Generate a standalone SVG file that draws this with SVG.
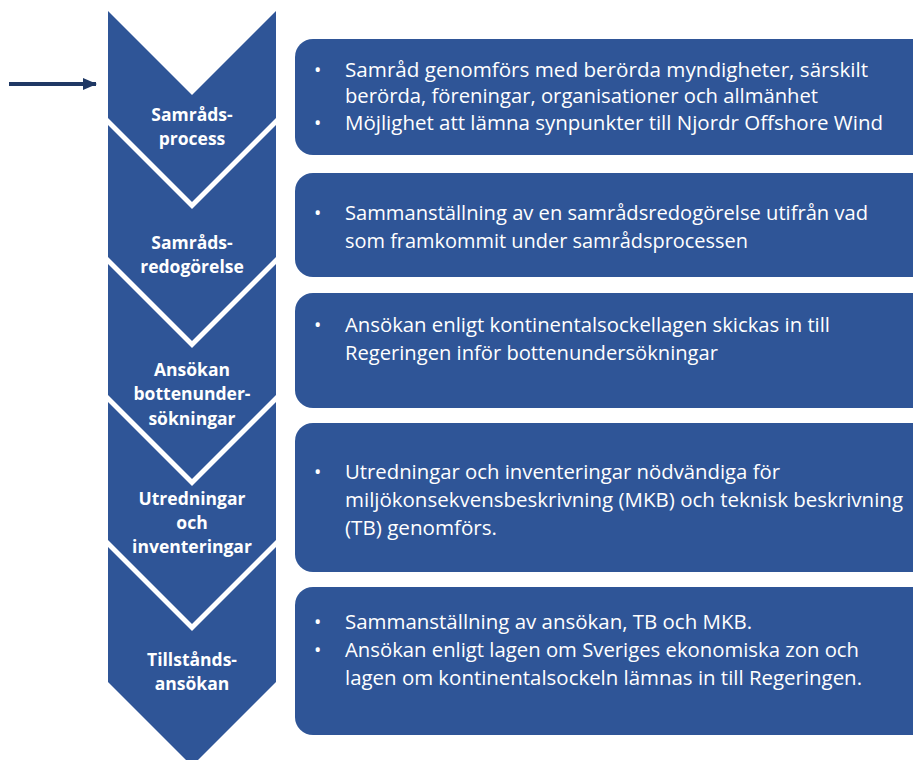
<svg xmlns="http://www.w3.org/2000/svg" width="913" height="760" viewBox="0 0 913 760">
<defs>
<style>
.chev{fill:#2F5597;}
.box{fill:#2F5597;}
.cl{font-family:"Open Sans","Noto Sans","Liberation Sans",sans-serif;font-weight:bold;font-size:17.5px;fill:#FFFFFF;text-anchor:middle;}
.bt{font-family:"Open Sans","Noto Sans","Liberation Sans",sans-serif;font-size:19.5px;fill:#FFFFFF;}
.arrow{stroke:#1F3864;stroke-width:4;fill:none;}
</style>
<marker id="ah" markerWidth="14" markerHeight="12" refX="13" refY="6" orient="auto" markerUnits="userSpaceOnUse">
<path d="M0,0 L14,6 L0,12 Z" fill="#1F3864"/>
</marker>
</defs>
<rect width="913" height="760" fill="#FFFFFF"/>
<g id="connectors">
<line class="arrow" x1="9" y1="84" x2="96" y2="84" marker-end="url(#ah)"/>
</g>
<g id="chevron1">
<polygon class="chev" points="108,11 192,95 276,11 276,118 192,202 108,118"/>
<text class="cl" x="192" y="121">Samråds-</text>
<text class="cl" x="192" y="145">process</text>
</g>
<g id="chevron2">
<polygon class="chev" points="108,125 192,209 276,125 276,257 192,341 108,257"/>
<text class="cl" x="192" y="249">Samråds-</text>
<text class="cl" x="192" y="273">redogörelse</text>
</g>
<g id="chevron3">
<polygon class="chev" points="108,264 192,348 276,264 276,395 192,479 108,395"/>
<text class="cl" x="192" y="376">Ansökan</text>
<text class="cl" x="192" y="400">bottenunder-</text>
<text class="cl" x="192" y="425">sökningar</text>
</g>
<g id="chevron4">
<polygon class="chev" points="108,402 192,486 276,402 276,540 192,624 108,540"/>
<text class="cl" x="192" y="505">Utredningar</text>
<text class="cl" x="192" y="529">och</text>
<text class="cl" x="192" y="553">inventeringar</text>
</g>
<g id="chevron5">
<polygon class="chev" points="108,547 192,631 276,547 276,682 192,766 108,682"/>
<text class="cl" x="192" y="666">Tillstånds-</text>
<text class="cl" x="192" y="690">ansökan</text>
</g>
<g id="box1">
<rect class="box" x="295" y="39" width="640" height="116" rx="18"/>
<text class="bt" x="314" y="77">•</text>
<text class="bt" x="345" y="77" textLength="523" lengthAdjust="spacingAndGlyphs">Samråd genomförs med berörda myndigheter, särskilt</text>
<text class="bt" x="345" y="103" textLength="473" lengthAdjust="spacingAndGlyphs">berörda, föreningar, organisationer och allmänhet</text>
<text class="bt" x="314" y="130">•</text>
<text class="bt" x="345" y="130" textLength="538" lengthAdjust="spacingAndGlyphs">Möjlighet att lämna synpunkter till Njordr Offshore Wind</text>
</g>
<g id="box2">
<rect class="box" x="295" y="173" width="640" height="104" rx="18"/>
<text class="bt" x="314" y="220">•</text>
<text class="bt" x="345" y="220" textLength="523" lengthAdjust="spacingAndGlyphs">Sammanställning av en samrådsredogörelse utifrån vad</text>
<text class="bt" x="345" y="248" textLength="403" lengthAdjust="spacingAndGlyphs">som framkommit under samrådsprocessen</text>
</g>
<g id="box3">
<rect class="box" x="295" y="293" width="640" height="115" rx="18"/>
<text class="bt" x="314" y="332">•</text>
<text class="bt" x="345" y="332" textLength="485" lengthAdjust="spacingAndGlyphs">Ansökan enligt kontinentalsockellagen skickas in till</text>
<text class="bt" x="345" y="360" textLength="373" lengthAdjust="spacingAndGlyphs">Regeringen inför bottenundersökningar</text>
</g>
<g id="box4">
<rect class="box" x="295" y="423" width="640" height="149" rx="18"/>
<text class="bt" x="314" y="479">•</text>
<text class="bt" x="345" y="479" textLength="435" lengthAdjust="spacingAndGlyphs">Utredningar och inventeringar nödvändiga för</text>
<text class="bt" x="345" y="507" textLength="558" lengthAdjust="spacingAndGlyphs">miljökonsekvensbeskrivning (MKB) och teknisk beskrivning</text>
<text class="bt" x="345" y="535" textLength="152" lengthAdjust="spacingAndGlyphs">(TB) genomförs.</text>
</g>
<g id="box5">
<rect class="box" x="295" y="587" width="640" height="148" rx="18"/>
<text class="bt" x="314" y="629">•</text>
<text class="bt" x="345" y="629" textLength="407" lengthAdjust="spacingAndGlyphs">Sammanställning av ansökan, TB och MKB.</text>
<text class="bt" x="314" y="657">•</text>
<text class="bt" x="345" y="657" textLength="514" lengthAdjust="spacingAndGlyphs">Ansökan enligt lagen om Sveriges ekonomiska zon och</text>
<text class="bt" x="345" y="685" textLength="517" lengthAdjust="spacingAndGlyphs">lagen om kontinentalsockeln lämnas in till Regeringen.</text>
</g>
</svg>
